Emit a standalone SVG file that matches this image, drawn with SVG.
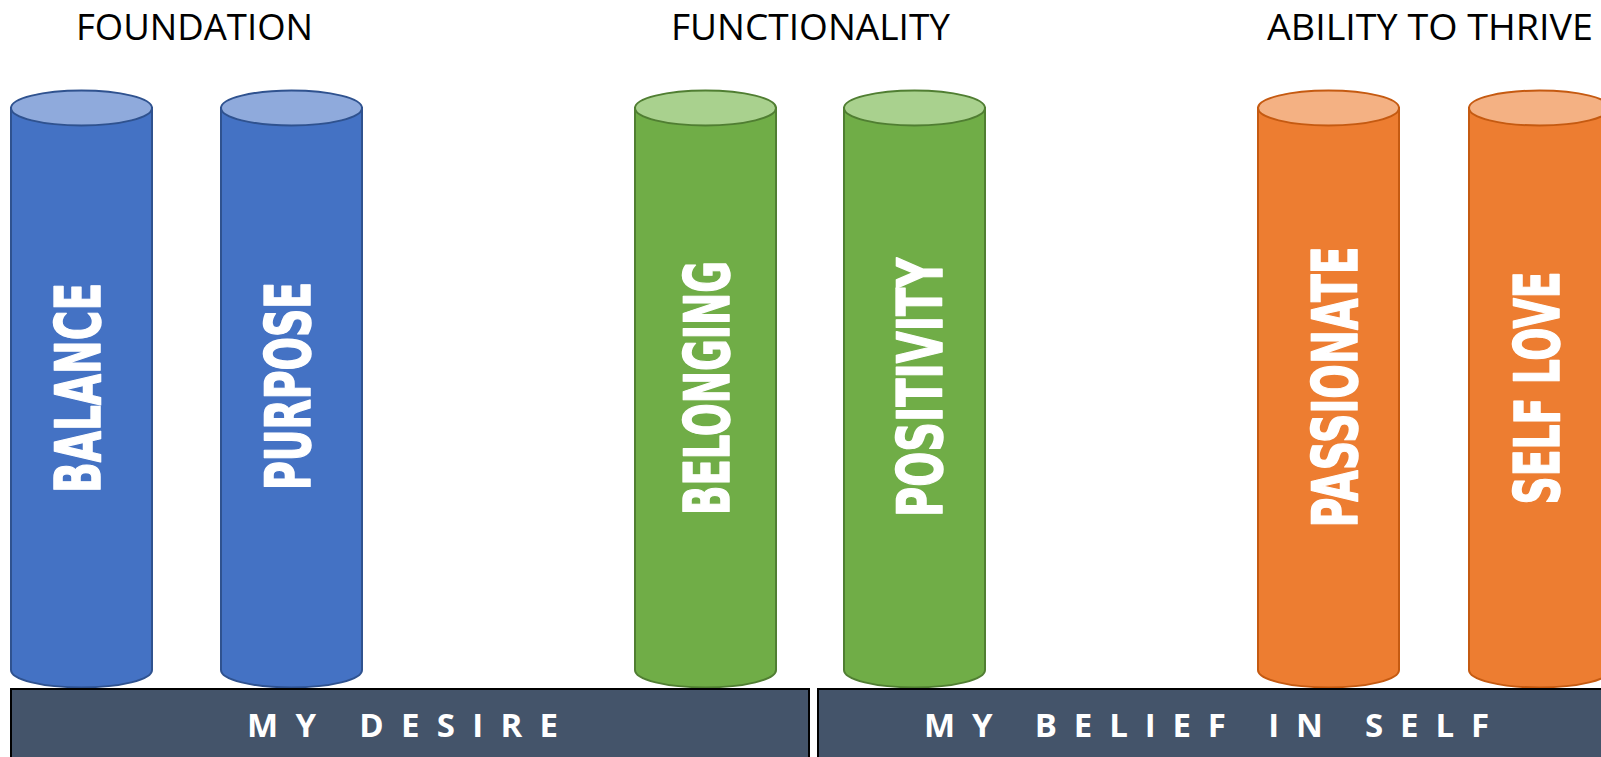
<svg xmlns="http://www.w3.org/2000/svg" width="1601" height="757" viewBox="0 0 1601 757">
<style>
.hdr{font-family:"Open Sans","Liberation Sans",sans-serif;font-size:37px;fill:#000}
.lbl{font-family:"DejaVu Sans Condensed","DejaVu Sans",sans-serif;font-weight:bold;font-size:62px;fill:#fff;stroke:#fff;stroke-width:1.5;stroke-linejoin:round;text-anchor:middle}
.bar{fill:#44546A;stroke:#000;stroke-width:2}
.bartxt{font-family:"Open Sans","Liberation Sans",sans-serif;font-weight:bold;font-size:33px;fill:#fff}
.bb{fill:#4472C4;stroke:#2F528F;stroke-width:2}
.bt{fill:#8FAADC;stroke:#2F528F;stroke-width:2}
.gb{fill:#70AD47;stroke:#507E32;stroke-width:2}
.gt{fill:#A9D18E;stroke:#507E32;stroke-width:2}
.ob{fill:#ED7D31;stroke:#C55A11;stroke-width:2}
.ot{fill:#F4B183;stroke:#C55A11;stroke-width:2}
</style>
<g id="headers">
<text class="hdr" x="76" y="39.5" textLength="237" lengthAdjust="spacingAndGlyphs">FOUNDATION</text>
<text class="hdr" x="671" y="39.5" textLength="279" lengthAdjust="spacingAndGlyphs">FUNCTIONALITY</text>
<text class="hdr" x="1267" y="39.5" textLength="326" lengthAdjust="spacingAndGlyphs">ABILITY TO THRIVE</text>
</g>
<g id="connectors"/>
<g id="balance">
<path class="bb" d="M11,108 L11,670 A70.5,17.5 0 0 0 152,670 L152,108 Z"/>
<ellipse class="bt" cx="81.5" cy="108" rx="70.5" ry="17.5"/>
<text class="lbl" transform="translate(78,388) rotate(-90)" y="22" textLength="210" lengthAdjust="spacingAndGlyphs">BALANCE</text>
</g>
<g id="purpose">
<path class="bb" d="M221,108 L221,670 A70.5,17.5 0 0 0 362,670 L362,108 Z"/>
<ellipse class="bt" cx="291.5" cy="108" rx="70.5" ry="17.5"/>
<text class="lbl" transform="translate(288,386) rotate(-90)" y="22" textLength="208" lengthAdjust="spacingAndGlyphs">PURPOSE</text>
</g>
<g id="belonging">
<path class="gb" d="M635,108 L635,670 A70.5,17.5 0 0 0 776,670 L776,108 Z"/>
<ellipse class="gt" cx="705.5" cy="108" rx="70.5" ry="17.5"/>
<text class="lbl" transform="translate(707,388) rotate(-90)" y="22" textLength="254" lengthAdjust="spacingAndGlyphs">BELONGING</text>
</g>
<g id="positivity">
<path class="gb" d="M844,108 L844,670 A70.5,17.5 0 0 0 985,670 L985,108 Z"/>
<ellipse class="gt" cx="914.5" cy="108" rx="70.5" ry="17.5"/>
<text class="lbl" transform="translate(920,387.5) rotate(-90)" y="22" textLength="259" lengthAdjust="spacingAndGlyphs">POSITIVITY</text>
</g>
<g id="passionate">
<path class="ob" d="M1258,108 L1258,670 A70.5,17.5 0 0 0 1399,670 L1399,108 Z"/>
<ellipse class="ot" cx="1328.5" cy="108" rx="70.5" ry="17.5"/>
<text class="lbl" transform="translate(1335,387) rotate(-90)" y="22" textLength="281" lengthAdjust="spacingAndGlyphs">PASSIONATE</text>
</g>
<g id="selflove">
<path class="ob" d="M1469,108 L1469,670 A70.5,17.5 0 0 0 1610,670 L1610,108 Z"/>
<ellipse class="ot" cx="1539.5" cy="108" rx="70.5" ry="17.5"/>
<text class="lbl" transform="translate(1537,388) rotate(-90)" y="22" textLength="233" lengthAdjust="spacingAndGlyphs">SELF LOVE</text>
</g>
<g id="my-desire">
<rect class="bar" x="11" y="689" width="798" height="80"/>
<text class="bartxt" x="247" y="737" textLength="311" lengthAdjust="spacing">MY DESIRE</text>
</g>
<g id="my-belief">
<rect class="bar" x="818" y="689" width="800" height="80"/>
<text class="bartxt" x="924" y="737" textLength="565" lengthAdjust="spacing">MY BELIEF IN SELF</text>
</g>
</svg>
